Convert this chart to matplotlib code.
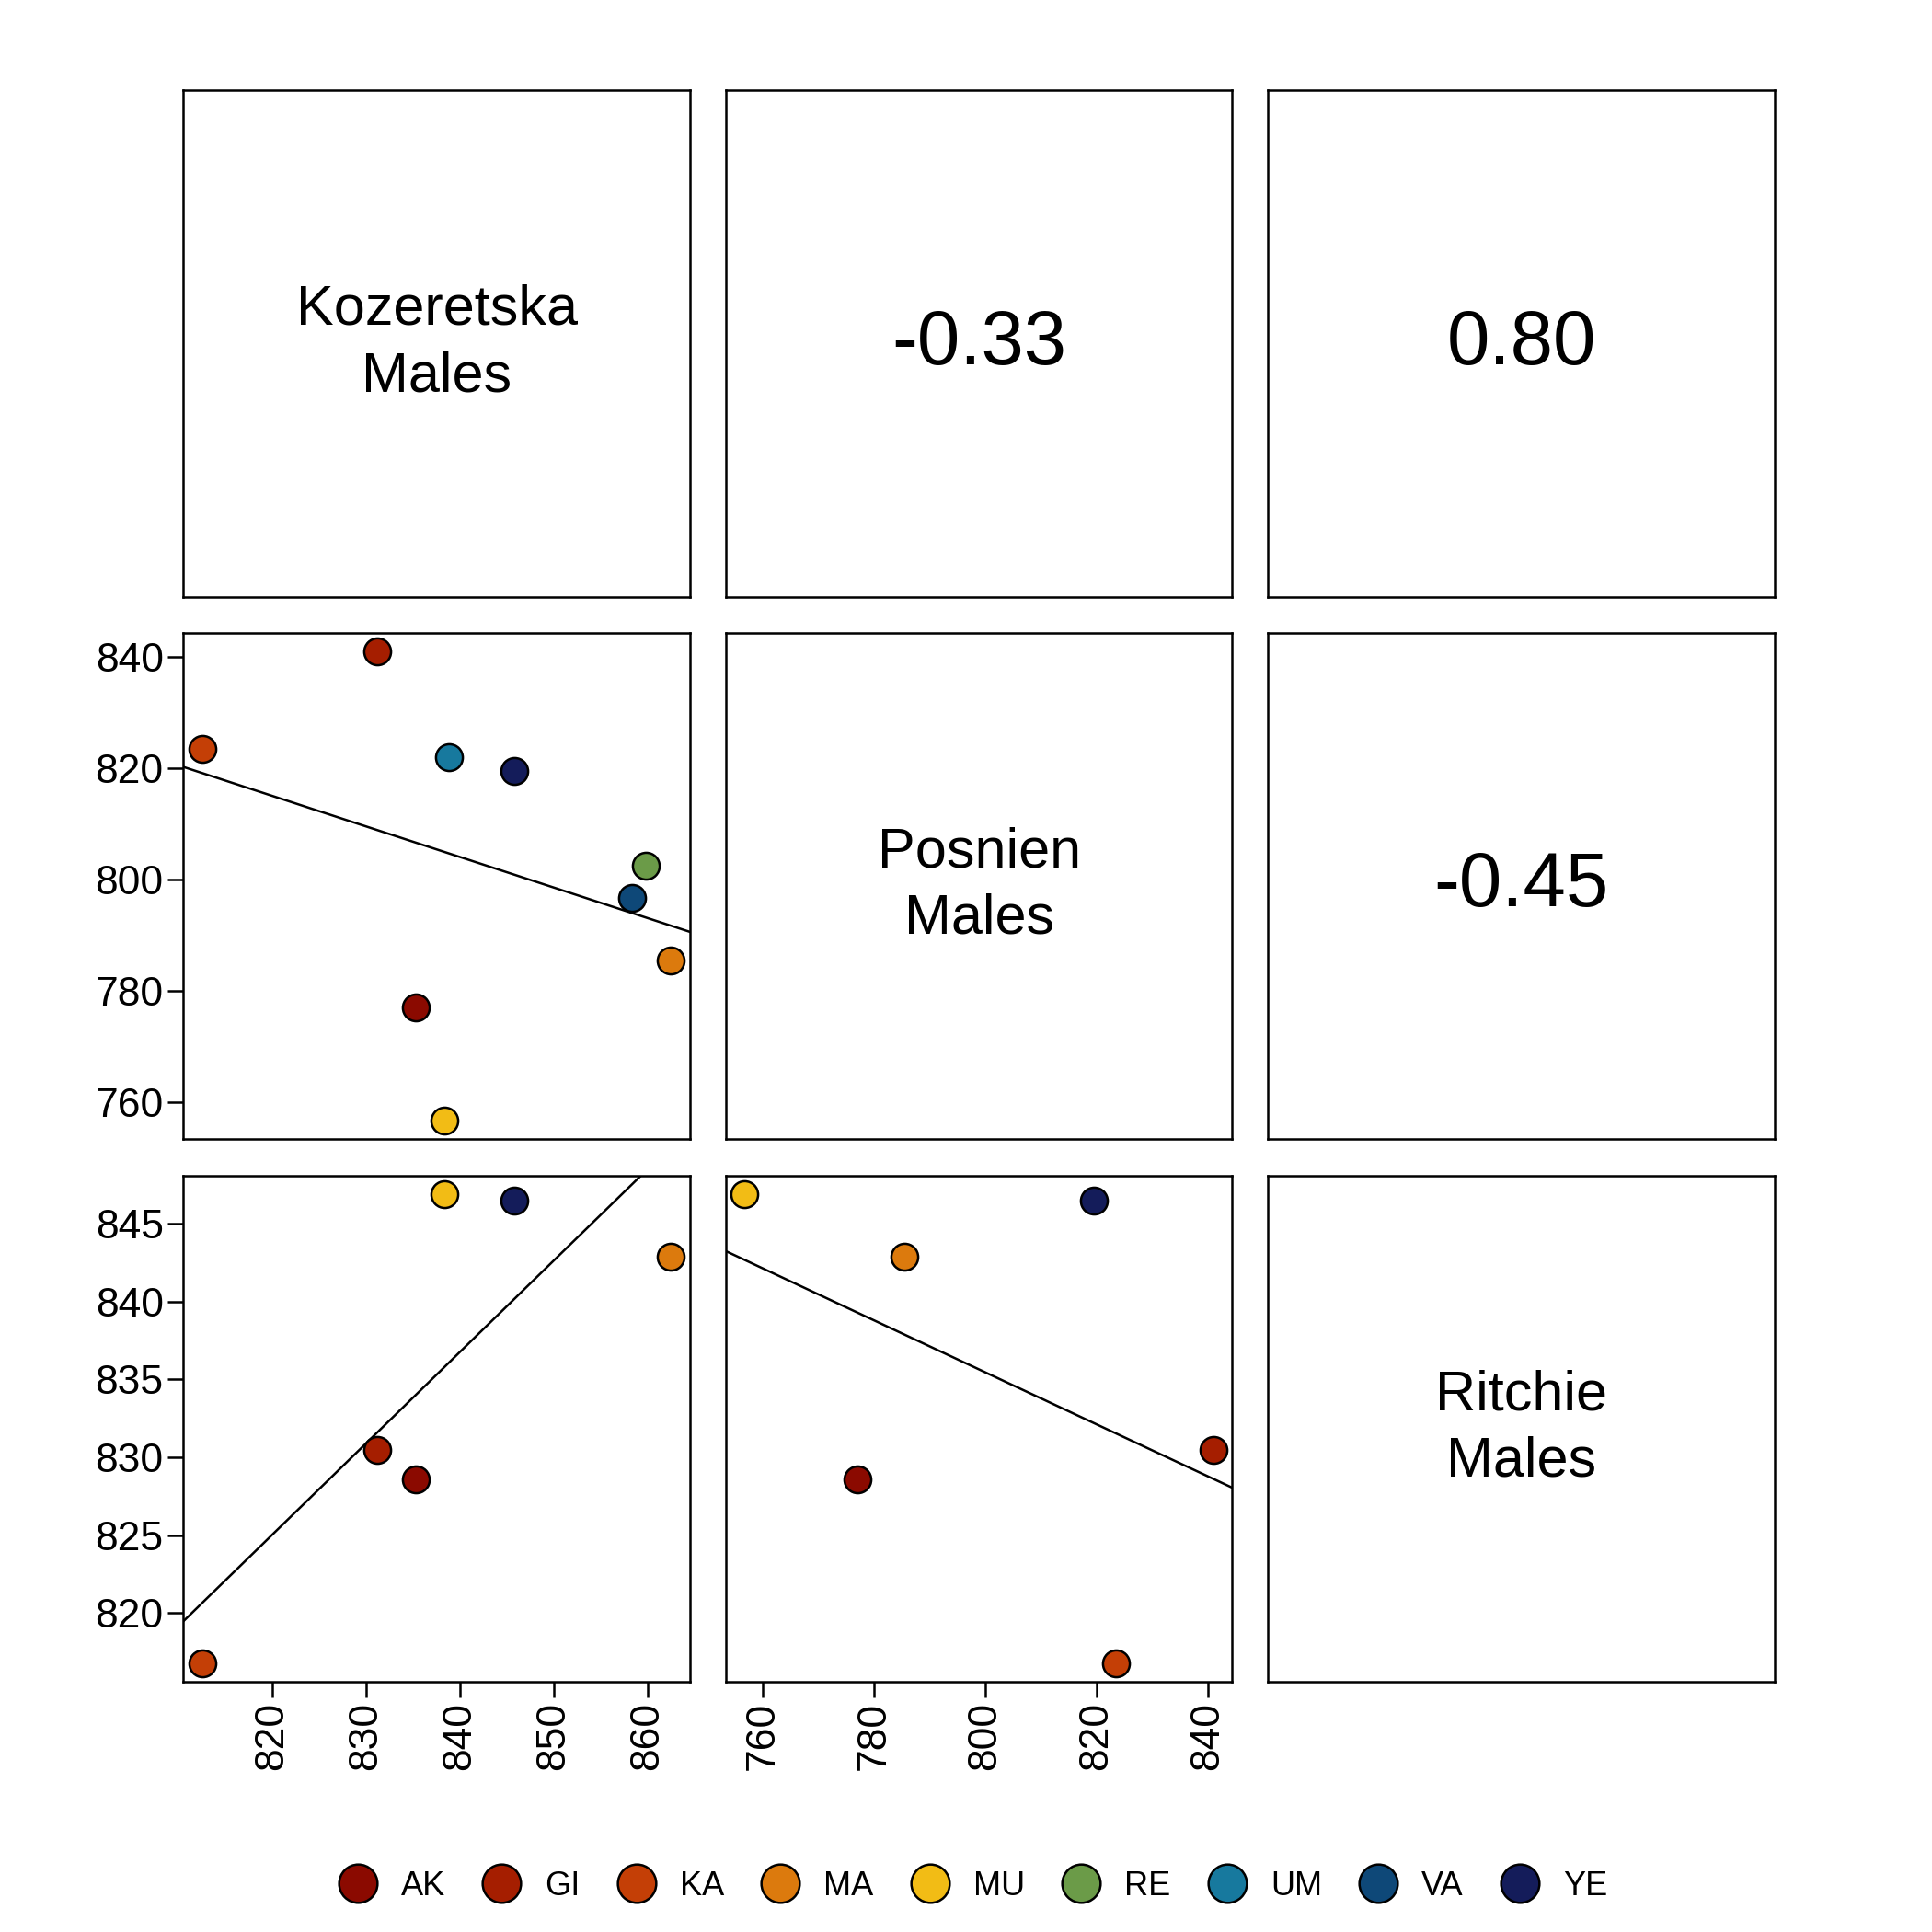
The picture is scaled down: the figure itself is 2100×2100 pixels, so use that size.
import numpy as np
import matplotlib
matplotlib.use('Agg')
import matplotlib.pyplot as plt
from matplotlib.lines import Line2D

plt.rcParams['font.family'] = ['Liberation Sans', 'DejaVu Sans']

pops = ['AK', 'GI', 'KA', 'MA', 'MU', 'RE', 'UM', 'VA', 'YE']
colors = ['#8B0A00', '#A51E00', '#C43F06', '#DC7A0D', '#F2BC15',
          '#6B9B48', '#17799E', '#0E4878', '#141C5A']
kozeretska = [835.3, 831.2, 812.5, 862.5, 838.3, 859.8, 838.8, 858.3, 845.8]
posnien = [777.0, 841.0, 823.5, 785.5, 756.7, 802.5, 822.0, 796.7, 819.5]
ritchie = [828.6, 830.5, 816.8, 842.9, 846.9, np.nan, np.nan, np.nan, 846.5]
names = ['Kozeretska\nMales', 'Posnien\nMales', 'Ritchie\nMales']
corr_labels = {(0, 1): '-0.33', (0, 2): '0.80', (1, 2): '-0.45'}
ticks = [[820, 830, 840, 850, 860], [760, 780, 800, 820, 840],
         [820, 825, 830, 835, 840, 845]]

data = [np.array(kozeretska), np.array(posnien), np.array(ritchie)]

def lim(v):
    v = v[~np.isnan(v)]
    e = (v.max() - v.min()) * 0.04
    return v.min() - e, v.max() + e

fig = plt.figure(figsize=(21, 21), dpi=100)
L, W, G = 148 / 1560, 409 / 1560, 29 / 1560
T = 1 - 73 / 1560

for r in range(3):
    for c in range(3):
        ax = fig.add_axes([L + c * (W + G), T - (r + 1) * W - r * G, W, W])
        for s in ax.spines.values():
            s.set_linewidth(1.8)
        ax.tick_params(width=1.8, length=12, labelsize=32)
        ax.set_xticks([]); ax.set_yticks([])
        if r == c:
            ax.text(0.5, 0.5, names[r], ha='center', va='center', fontsize=44,
                    transform=ax.transAxes, linespacing=1.35)
        elif r < c:
            ax.text(0.5, 0.5, corr_labels[(r, c)], ha='center', va='center',
                    fontsize=60, transform=ax.transAxes)
        else:
            x, y = data[c], data[r]
            ok = ~np.isnan(x) & ~np.isnan(y)
            ax.set_xlim(lim(x)); ax.set_ylim(lim(y))
            b, a = np.polyfit(x[ok], y[ok], 1)
            xl = np.array(ax.get_xlim())
            ax.plot(xl, a + b * xl, color='black', lw=1.8)
            ax.set_xlim(lim(x)); ax.set_ylim(lim(y))
            for i in range(len(pops)):
                if ok[i]:
                    ax.scatter(x[i], y[i], s=440, color=colors[i],
                               edgecolor='black', linewidth=1.8, zorder=3)
            if c == 0:
                ax.set_yticks(ticks[r])
            if r == 2:
                ax.set_xticks(ticks[c])
                ax.tick_params(axis='x', labelrotation=90)

handles = [Line2D([], [], marker='o', ls='', markersize=30, markerfacecolor=col,
                  markeredgecolor='black', markeredgewidth=1.8) for col in colors]
fig.legend(handles, pops, loc='center', bbox_to_anchor=(0.5, 1 - 1523 / 1560),
           ncol=9, frameon=False, fontsize=26, handletextpad=0.3, columnspacing=0.7)

fig.savefig('out.png', dpi=100, facecolor='white')
